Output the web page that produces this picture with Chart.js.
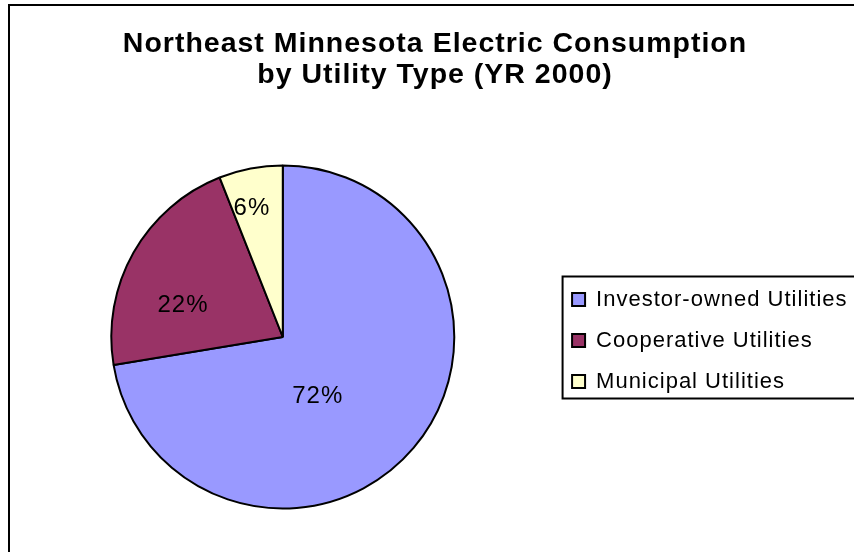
<!DOCTYPE html>
<html>
<head>
<meta charset="utf-8">
<title>Northeast Minnesota Electric Consumption</title>
<script src="https://cdn.jsdelivr.net/npm/chart.js@4.4.1/dist/chart.umd.min.js"></script>
<style>
    html, body { margin: 0; padding: 0; background: #fff; overflow: hidden; }
    #frame {
        position: absolute; left: 8px; top: 4px; width: 900px; height: 600px;
        border-left: 2px solid #000; border-top: 2px solid #000;
    }
    #wrap { position: absolute; left: 0; top: 0; width: 900px; height: 552px; }
</style>
</head>
<body>
<div id="frame"></div>
<div id="wrap"><canvas id="pie" width="900" height="552"></canvas></div>
<script>
// Datos del gráfico
const titleLines = ['Northeast Minnesota Electric Consumption', 'by Utility Type (YR 2000)'];
const categories = ['Investor-owned Utilities', 'Cooperative Utilities', 'Municipal Utilities'];
const shares = [72.4, 21.6, 6.0];
const sliceColors = ['#9999FF', '#993366', '#FFFFCC'];

const FONT = '"Liberation Sans", Arial, sans-serif';

// Excel-like wide text: a little letter spacing on everything
const spacingPlugin = {
    id: 'spacing',
    beforeLayout(chart) { chart.ctx.letterSpacing = '1px'; },
    beforeDraw(chart) { chart.ctx.letterSpacing = '1px'; }
};

// Percent labels inside the slices
const sliceLabels = {
    id: 'sliceLabels',
    afterDatasetsDraw(chart, args, opts) {
        const ctx = chart.ctx;
        const meta = chart.getDatasetMeta(0);
        const values = chart.data.datasets[0].data;
        const total = values.reduce((a, b) => a + b, 0);
        ctx.save();
        ctx.font = opts.font;
        ctx.fillStyle = '#000';
        ctx.textAlign = 'center';
        ctx.textBaseline = 'middle';
        meta.data.forEach((arc, i) => {
            const p = arc.getProps(['x', 'y', 'startAngle', 'endAngle', 'outerRadius'], true);
            const spot = opts.spots[i];
            const a = (p.startAngle + p.endAngle) / 2 + spot[1] * Math.PI / 180;
            const r = p.outerRadius * spot[0];
            ctx.fillText(Math.round(values[i] / total * 100) + '%', p.x + Math.cos(a) * r, p.y + Math.sin(a) * r);
        });
        ctx.restore();
    }
};

// Box round the legend
const legendFrame = {
    id: 'legendFrame',
    afterDraw(chart) {
        const lg = chart.legend;
        const hb = lg.legendHitBoxes;
        if (!hb || !hb.length) return;
        const last = hb[hb.length - 1];
        const ctx = chart.ctx;
        ctx.save();
        ctx.strokeStyle = '#000';
        ctx.lineWidth = 2;
        ctx.strokeRect(hb[0].left - 9.5, hb[0].top - 12, lg.right + 40 - hb[0].left, last.top + last.height + 18 - hb[0].top);
        ctx.restore();
    }
};

new Chart(document.getElementById('pie'), {
    type: 'pie',
    data: {
        labels: categories,
        datasets: [{
            data: shares,
            backgroundColor: sliceColors,
            borderColor: '#000',
            borderWidth: 2
        }]
    },
    options: {
        responsive: false,
        animation: false,
        events: [],
        layout: { padding: { left: 12.5, right: 42.5, top: 0, bottom: 42.5 } },
        plugins: {
            title: {
                display: true,
                text: titleLines,
                color: '#000',
                font: { family: FONT, size: 28.5, weight: 'bold', lineHeight: '31px' },
                padding: { top: 28.5, bottom: 74 }
            },
            legend: {
                position: 'right',
                fullSize: false,
                title: { display: true, text: '', padding: 0, font: { size: 7, lineHeight: 1 } },
                labels: {
                    color: '#000',
                    font: { family: FONT, size: 22 },
                    boxWidth: 13,
                    boxHeight: 13,
                    padding: 19
                }
            },
            tooltip: { enabled: false },
            sliceLabels: {
                font: '24px ' + FONT,
                spots: [[0.40, 19], [0.61, -12], [0.77, -2.7]]
            }
        }
    },
    plugins: [spacingPlugin, sliceLabels, legendFrame]
});
</script>
</body>
</html>
